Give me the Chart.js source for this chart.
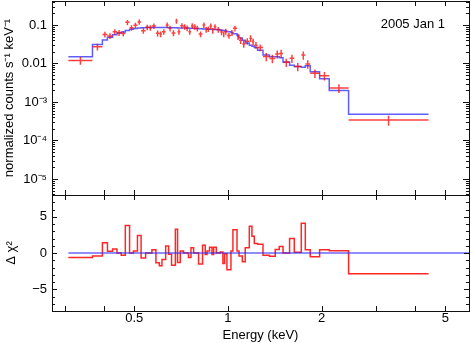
<!DOCTYPE html>
<html>
<head>
<meta charset="utf-8">
<script src="https://cdn.jsdelivr.net/npm/chart.js@4.4.0/dist/chart.umd.min.js"></script>
<style>
  html, body { margin: 0; padding: 0; background: #fff; }
  #wrap { position: relative; width: 471px; height: 343px; }
  #top { position: absolute; left: 0; top: 0; }
  #bot { position: absolute; left: 0; top: 194px; }
</style>
</head>
<body>
<div id="wrap">
  <canvas id="top" width="471" height="196" style="width:471px;height:196px"></canvas>
  <canvas id="bot" width="471" height="149" style="width:471px;height:149px"></canvas>
</div>
<script>
// energy bin edges (keV)
const binEdges = [0.307, 0.367, 0.395, 0.410, 0.426, 0.440, 0.454, 0.468, 0.483, 0.497, 0.512, 0.526, 0.544,
  0.557, 0.570, 0.587, 0.602, 0.614, 0.631, 0.645, 0.659, 0.678, 0.689, 0.703, 0.720, 0.733, 0.747, 0.761,
  0.776, 0.790, 0.805, 0.829, 0.846, 0.857, 0.873, 0.889, 0.900, 0.918, 0.945, 0.964, 0.976, 0.993, 1.023,
  1.038, 1.070, 1.086, 1.113, 1.137, 1.172, 1.195, 1.216, 1.246, 1.297, 1.361, 1.420, 1.463, 1.504, 1.579,
  1.635, 1.722, 1.774, 1.840, 1.972, 2.118, 2.444, 4.418];

// normalized counts s^-1 keV^-1
const counts = [0.012, 0.0273, 0.057, 0.052, 0.067, 0.063, 0.060, 0.117, 0.085, 0.098,
  0.120, 0.071, 0.087, 0.085, 0.094, 0.061, 0.058, 0.067, 0.100, 0.082,
  0.062, 0.127, 0.067, 0.096, 0.090, 0.083, 0.067, 0.096, 0.090, 0.082,
  0.058, 0.100, 0.076, 0.079, 0.094, 0.071, 0.090, 0.076, 0.066, 0.058,
  0.068, 0.053, 0.063, 0.082, 0.050, 0.040, 0.032, 0.038, 0.045, 0.037,
  0.030, 0.026, 0.0151, 0.0135, 0.0176, 0.0183, 0.0107, 0.0136, 0.0083, 0.0166,
  0.0097, 0.0056, 0.0048, 0.0023, 0.00034];

const countErr = [0.0027, 0.0055, 0.010, 0.009, 0.011, 0.011, 0.010, 0.018, 0.014, 0.016,
  0.019, 0.012, 0.014, 0.014, 0.015, 0.011, 0.010, 0.011, 0.016, 0.014,
  0.011, 0.019, 0.011, 0.015, 0.015, 0.014, 0.011, 0.015, 0.015, 0.014,
  0.010, 0.016, 0.013, 0.013, 0.015, 0.012, 0.015, 0.013, 0.012, 0.010,
  0.012, 0.009, 0.011, 0.014, 0.009, 0.008, 0.0065, 0.0075, 0.009, 0.0075,
  0.006, 0.0052, 0.0036, 0.0033, 0.0042, 0.0044, 0.0026, 0.0033, 0.002, 0.004,
  0.0024, 0.0014, 0.0012, 0.0006, 0.0001];

const model = [0.015, 0.031, 0.041, 0.048, 0.056, 0.062, 0.066, 0.072, 0.078, 0.081,
  0.083, 0.085, 0.086, 0.086, 0.086, 0.086, 0.086, 0.086, 0.086, 0.085,
  0.085, 0.085, 0.084, 0.084, 0.083, 0.083, 0.082, 0.082, 0.081, 0.081,
  0.080, 0.079, 0.079, 0.078, 0.077, 0.077, 0.076, 0.075, 0.073, 0.072,
  0.070, 0.067, 0.064, 0.059, 0.053, 0.046, 0.040, 0.034, 0.030, 0.028,
  0.026, 0.022, 0.0165, 0.0150, 0.0150, 0.0140, 0.0110, 0.0090, 0.0083, 0.0080,
  0.0087, 0.0061, 0.0040, 0.0020, 0.00048];

// delta chi^2 residuals
const residuals = [-0.63, -0.4, 1.4, 0.23, 0.55, 0.0, -0.3, 3.8, 0.0, 0.27,
  2.4, -0.68, 0.0, 0.0, 0.46, -1.36, -1.77, -0.9, 0.95, -0.18,
  -1.68, 3.27, -1.3, 0.27, 0.0, 0.0, -0.63, 0.73, 0.0, 0.0,
  -1.5, 1.06, -0.2, 0.27, 0.8, -0.2, 0.8, 0.0, 0.14, -1.44,
  -0.1, -2.3, 0.27, 3.2, 0.27, -0.4, -1.2, 0.73, 3.7, 2.3,
  1.3, 1.2, -0.3, -0.45, 0.5, 0.9, 0.0, 2.0, 0.1, 4.1,
  0.46, -0.5, 0.46, 0.3, -2.86];

// axes
const xMin = 0.272, xMax = 5.96;
const xTickVals = [0.3, 0.4, 0.5, 1, 2, 3, 4, 5];
const xLabelVals = [0.5, 1, 2, 5];
const yMin = 3.84e-6, yMax = 0.42;
const yLabelVals = [1e-5, 1e-4, 1e-3, 0.01, 0.1];
const yLabelText = ['10⁻⁵', '10⁻⁴', '10⁻³', '0.01', '0.1'];
const rMin = -8, rMax = 8;
const rLabelVals = [-5, 0, 5];
const noteText = '2005 Jan 1';

Chart.defaults.font.family = '"Liberation Sans", Arial, sans-serif';
Chart.defaults.font.size = 13;
Chart.defaults.color = '#000';

// build step lines and error crosses from the arrays
const modelPts = [], resPts = [], errPts = [];
for (let i = 0; i < counts.length; i++) {
  const lo = binEdges[i], hi = binEdges[i + 1], c = Math.sqrt(lo * hi);
  modelPts.push({ x: lo, y: model[i] });
  resPts.push({ x: lo, y: residuals[i] });
  errPts.push({ x: lo, y: counts[i] }, { x: hi, y: counts[i] }, { x: hi, y: null });
  errPts.push({ x: c, y: counts[i] - countErr[i] }, { x: c, y: counts[i] + countErr[i] }, { x: c, y: null });
}
const last = counts.length - 1;
modelPts.push({ x: binEdges[last + 1], y: model[last] });
resPts.push({ x: binEdges[last + 1], y: residuals[last] });

// inward tick marks on all four sides + frame
const frame = {
  id: 'frame',
  afterDatasetsDraw(chart, args, opts) {
    const { ctx, chartArea: a, scales } = chart;
    ctx.save();
    ctx.strokeStyle = '#111';
    ctx.lineWidth = 1;
    ctx.beginPath();
    xTickVals.forEach(t => {
      const px = Math.round(scales.x.getPixelForValue(t)) + 0.5;
      ctx.moveTo(px, a.top); ctx.lineTo(px, a.top + 5);
      ctx.moveTo(px, a.bottom); ctx.lineTo(px, a.bottom - 5);
    });
    opts.yTicks.forEach(t => {
      const py = Math.round(scales.y.getPixelForValue(t[0])) + 0.5;
      ctx.moveTo(a.left, py); ctx.lineTo(a.left + t[1], py);
      ctx.moveTo(a.right, py); ctx.lineTo(a.right - t[1], py);
    });
    ctx.stroke();
    ctx.strokeRect(Math.round(a.left) + 0.5, Math.round(a.top) + 0.5,
      Math.round(a.right - a.left), Math.round(a.bottom - a.top));
    if (opts.note) {
      ctx.fillStyle = '#000';
      ctx.font = '13px "Liberation Sans", Arial, sans-serif';
      ctx.textAlign = 'right';
      ctx.textBaseline = 'middle';
      ctx.fillText(opts.note, 445, 24);
    }
    ctx.restore();
  }
};

// fixed axis boxes, no label overhang padding
const fixY = s => { s.width = 52; s.paddingTop = 0; s.paddingBottom = 0; };
const fixX = h => s => { s.height = h; s.paddingLeft = 0; s.paddingRight = 0; };

const logTicks = [];
for (let k = -6; k <= 0; k++) {
  for (let m = 1; m <= 9; m++) {
    const v = m * Math.pow(10, k);
    if (v >= yMin && v <= yMax) logTicks.push([v, m === 1 ? 6 : 3]);
  }
}
const linTicks = [];
for (let v = rMin; v <= rMax; v++) linTicks.push([v, v % 5 === 0 ? 5 : 3]);

new Chart(document.getElementById('top'), {
  type: 'line',
  data: {
    datasets: [
      { data: errPts, borderColor: 'rgba(255,0,0,0.75)', borderWidth: 1.5, pointRadius: 0, spanGaps: false, fill: false },
      { data: modelPts, borderColor: 'rgba(40,40,255,0.75)', borderWidth: 1.5, pointRadius: 0, stepped: true, fill: false }
    ]
  },
  options: {
    responsive: false,
    animation: false,
    layout: { padding: { left: 0, right: 2, top: 1, bottom: 1 } },
    plugins: {
      legend: { display: false },
      tooltip: { enabled: false },
      frame: { yTicks: logTicks, note: noteText }
    },
    scales: {
      x: { type: 'logarithmic', min: xMin, max: xMax, display: false },
      y: {
        type: 'logarithmic', min: yMin, max: yMax,
        grid: { display: false, drawTicks: false },
        border: { display: false },
        afterBuildTicks: s => { s.ticks = yLabelVals.map(v => ({ value: v })); },
        afterFit: fixY,
        ticks: { padding: 5, autoSkip: false, callback: v => yLabelText[yLabelVals.indexOf(v)] },
        title: { display: true, text: 'normalized counts s⁻¹ keV⁻¹', padding: { top: 2, bottom: 0 } }
      }
    }
  },
  plugins: [frame]
});

new Chart(document.getElementById('bot'), {
  type: 'line',
  data: {
    datasets: [
      { data: [{ x: binEdges[0], y: 0 }, { x: xMax, y: 0 }], borderColor: 'rgba(40,40,255,0.7)', borderWidth: 1.5, pointRadius: 0, fill: false },
      { data: resPts, borderColor: 'rgba(255,0,0,0.85)', borderWidth: 1.5, pointRadius: 0, stepped: true, fill: false }
    ]
  },
  options: {
    responsive: false,
    animation: false,
    layout: { padding: { left: 0, right: 2, top: 1, bottom: 0 } },
    plugins: {
      legend: { display: false },
      tooltip: { enabled: false },
      frame: { yTicks: linTicks }
    },
    scales: {
      x: {
        type: 'logarithmic', min: xMin, max: xMax,
        grid: { display: false, drawTicks: false },
        border: { display: false },
        afterBuildTicks: s => { s.ticks = xLabelVals.map(v => ({ value: v })); },
        afterFit: fixX(32),
        ticks: { padding: 0, autoSkip: false, maxRotation: 0, callback: v => String(v) },
        title: { display: true, text: 'Energy (keV)', padding: { top: 0, bottom: 0 } }
      },
      y: {
        type: 'linear', min: rMin, max: rMax,
        grid: { display: false, drawTicks: false },
        border: { display: false },
        afterBuildTicks: s => { s.ticks = rLabelVals.map(v => ({ value: v })); },
        afterFit: fixY,
        ticks: { padding: 5, autoSkip: false, callback: v => v < 0 ? '−' + (-v) : String(v) },
        title: { display: true, text: 'Δ χ²', padding: { top: 4, bottom: 0 } }
      }
    }
  },
  plugins: [frame]
});
</script>
</body>
</html>
